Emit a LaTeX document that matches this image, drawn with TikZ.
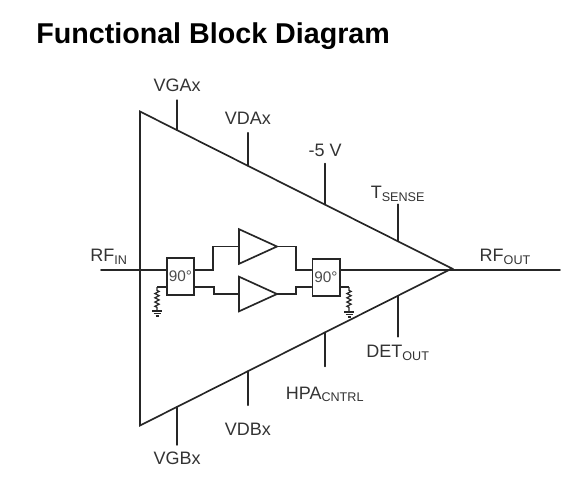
\documentclass[tikz,border=0pt]{standalone}
\usepackage{fontspec}
\setmainfont{Liberation Sans}
\usetikzlibrary{calc, positioning, shapes.geometric, decorations.pathmorphing}

\begin{document}
\begin{tikzpicture}[
        x=0.75pt, y=-0.75pt,
        wire/.style={line width=1.25pt, line cap=round, black!85},
        thin wire/.style={line width=0.9pt, black!85},
        bigamp/.style={isosceles triangle, isosceles triangle stretches, draw=black!85,
                    line width=1.25pt, minimum width=235.5pt, minimum height=234pt,
                    inner sep=0pt, outer sep=0pt, anchor=apex},
        amp/.style={isosceles triangle, isosceles triangle stretches, draw=black!85,
                    line width=1.25pt, minimum width=26pt, minimum height=28.5pt,
                    inner sep=0pt, outer sep=0pt, anchor=apex},
        hybrid/.style={rectangle, draw=black!85, line width=1.25pt, fill=white,
                    minimum width=20.5pt, minimum height=27.5pt,
                    inner sep=0pt, font=\fontsize{11.5}{13}\selectfont, text=black!70},
        pinlabel/.style={inner sep=1pt, font=\fontsize{13.5}{15}\selectfont, text=black!80},
        load/.style={thin wire, decorate,
                    decoration={zigzag, amplitude=1.6pt, segment length=3.2pt,
                    pre length=2.5pt, post length=2.5pt}},
    ]
    \useasboundingbox (0,0) rectangle (580,501);

    % title
    \node[anchor=base west, inner sep=0pt, font=\fontsize{21.5}{25}\selectfont\bfseries] (title)
        at (36,43) {Functional Block Diagram};

    % large triangle
    \node[bigamp] (pa) at (452,268.5) {};

    % hybrids
    \node[hybrid] (hybin) at (180.5,276.5) {90°};
    \node[hybrid] (hybout) at (326,277.5) {90°};

    % amplifiers
    \node[amp] (ampa) at (277,246.5) {};
    \node[amp] (ampb) at (277,294) {};

    % RF path
    \coordinate (rfin) at (101,270);
    \coordinate (rfout) at (560,270);
    \draw[wire] (rfin) -- (rfin -| hybin.west);
    \draw[wire] (hybout.east |- rfin) -- (rfout);
    \draw[wire] (hybin.east |- rfin) -| (213,246.5) -- (ampa.lower side);
    \draw[wire] (hybin.east |- 0,287) -| (214,294) -- (ampb.lower side);
    \draw[wire] (ampa.apex) -| (296,270) -- (hybout.west |- rfin);
    \draw[wire] (ampb.apex) -| (296,287) -- (hybout.west |- 0,287);
    \node[pinlabel, above=3pt of rfin, xshift=6pt] (rfinlabel) {RF\textsubscript{IN}};
    \node[pinlabel, above=3pt of rfout, xshift=-41pt] (rfoutlabel) {RF\textsubscript{OUT}};

    % terminated ports
    \coordinate (loada) at (157,287);
    \coordinate (loadb) at (349,287);
    \coordinate (gnda) at (157,311);
    \coordinate (gndb) at (349,312);
    \draw[thin wire] (hybin.west |- loada) -- (loada);
    \draw[thin wire] (hybout.east |- loadb) -- (loadb);
    \draw[load] (loada) -- (gnda);
    \draw[load] (loadb) -- (gndb);
    \draw[thin wire] ($(gnda)+(-5,0)$) -- ($(gnda)+(5,0)$)
        ($(gnda)+(-3.5,2.5)$) -- ($(gnda)+(3.5,2.5)$)
        ($(gnda)+(-1.5,5)$) -- ($(gnda)+(1.5,5)$);
    \draw[thin wire] ($(gndb)+(-5,0)$) -- ($(gndb)+(5,0)$)
        ($(gndb)+(-3.5,2.5)$) -- ($(gndb)+(3.5,2.5)$)
        ($(gndb)+(-1.5,5)$) -- ($(gndb)+(1.5,5)$);

    % upper edge
    \coordinate (vgaa) at ($(pa.left corner)!0.1186!(pa.apex)$);
    \coordinate (vdaa) at ($(pa.left corner)!0.346!(pa.apex)$);
    \coordinate (neg) at ($(pa.left corner)!0.593!(pa.apex)$);
    \coordinate (tse) at ($(pa.left corner)!0.827!(pa.apex)$);
    \coordinate (vgaend) at ($(vgaa)+(0,-30)$);
    \coordinate (vdaend) at ($(vdaa)+(0,-33)$);
    \coordinate (negend) at ($(neg)+(0,-41)$);
    \coordinate (tseend) at ($(tse)+(0,-37)$);
    \draw[wire] (vgaa) -- (vgaend);
    \draw[wire] (vdaa) -- (vdaend);
    \draw[wire] (neg) -- (negend);
    \draw[wire] (tse) -- (tseend);
    \node[pinlabel, above=5pt of vgaend] (vgax) {VGAx};
    \node[pinlabel, above=5pt of vdaend] (vdax) {VDAx};
    \node[pinlabel, above=4pt of negend] (neglabel) {-5 V};
    \node[pinlabel, above=1pt of tseend] (tsense) {T\textsubscript{SENSE}};

    % lower edge
    \coordinate (vgbb) at ($(pa.right corner)!0.1186!(pa.apex)$);
    \coordinate (vdbb) at ($(pa.right corner)!0.346!(pa.apex)$);
    \coordinate (hpa) at ($(pa.right corner)!0.593!(pa.apex)$);
    \coordinate (det) at ($(pa.right corner)!0.827!(pa.apex)$);
    \coordinate (vgbend) at ($(vgbb)+(0,38)$);
    \coordinate (vdbend) at ($(vdbb)+(0,34)$);
    \coordinate (hpaend) at ($(hpa)+(0,34)$);
    \coordinate (detend) at ($(det)+(0,41)$);
    \draw[wire] (vgbb) -- (vgbend);
    \draw[wire] (vdbb) -- (vdbend);
    \draw[wire] (hpa) -- (hpaend);
    \draw[wire] (det) -- (detend);
    \node[pinlabel, below=4pt of vgbend] (vgbx) {VGBx};
    \node[pinlabel, below=12pt of vdbend] (vdbx) {VDBx};
    \node[pinlabel, below=14pt of hpaend] (hpacntrl) {HPA\textsubscript{CNTRL}};
    \node[pinlabel, below=5pt of detend] (detout) {DET\textsubscript{OUT}};

\end{tikzpicture}
\end{document}
